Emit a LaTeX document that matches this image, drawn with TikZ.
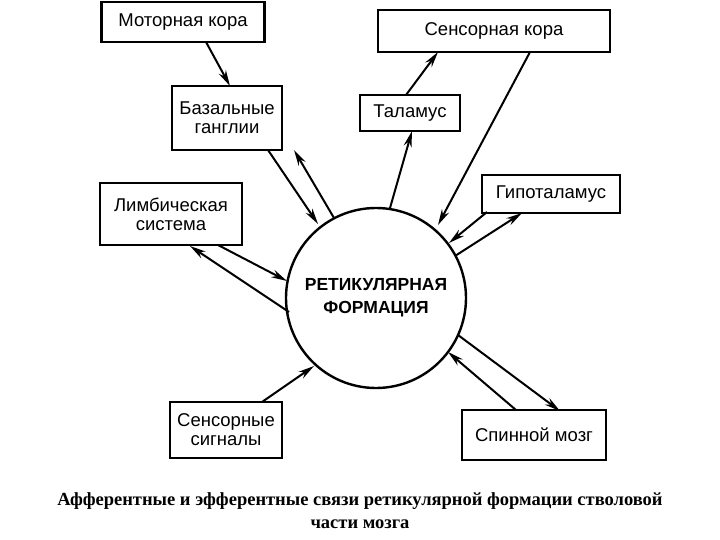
\documentclass[tikz,border=0pt]{standalone}
\usepackage{fontspec}
\setmainfont{Liberation Sans}
\newfontfamily\capfont{Liberation Serif}
\usetikzlibrary{arrows.meta}
\begin{document}
\begin{tikzpicture}[x=1pt,y=-1pt,
 box/.style={draw,line width=2.4pt,align=center,font=\fontsize{18.5}{19}\selectfont,inner sep=0pt},
 arr/.style={line width=2pt,-{Stealth[length=16pt,width=8pt]}}]
\useasboundingbox (0,0) rectangle (720,540);
\node[circle,draw,line width=2.4pt,minimum size=180pt,align=center,font=\bfseries\fontsize{17.5}{23}\selectfont] (rf) at (376,298) {РЕТИКУЛЯРНАЯ\\ФОРМАЦИЯ};
\node[box,minimum width=163pt,minimum height=40pt] (mk) at (183,22) {Моторная кора};
\node[box,minimum width=232pt,minimum height=42pt] (sk) at (494,31) {Сенсорная кора};
\node[box,minimum width=110pt,minimum height=64pt] (bg) at (227,118) {Базальные\\ганглии};
\node[box,minimum width=100pt,minimum height=36pt] (th) at (410,113) {Таламус};
\node[box,minimum width=142pt,minimum height=62pt] (ls) at (171,214) {Лимбическая\\система};
\node[box,minimum width=138pt,minimum height=38pt] (ht) at (551,194) {Гипоталамус};
\node[box,minimum width=112pt,minimum height=56pt] (ss) at (226,430) {Сенсорные\\сигналы};
\node[box,minimum width=144pt,minimum height=50pt] (sm) at (534,435) {Спинной мозг};
\coordinate (a1) at (206,42); \coordinate (a2) at (230,86);
\draw[arr] (a1) -- (a2);
\coordinate (b1) at (530,52); \coordinate (b2) at (438,225);
\draw[arr] (b1) -- (b2);
\coordinate (c1) at (406,95); \coordinate (c2) at (438,52);
\draw[arr] (c1) -- (c2);
\coordinate (d1) at (390,208); \coordinate (d2) at (412,131);
\draw[arr] (d1) -- (d2);
\coordinate (e1) at (268,150); \coordinate (e2) at (318,224);
\draw[arr] (e1) -- (e2);
\coordinate (f1) at (334,218); \coordinate (f2) at (294,150);
\draw[arr] (f1) -- (f2);
\coordinate (g1) at (218,245); \coordinate (g2) at (287,281);
\draw[arr] (g1) -- (g2);
\coordinate (h1) at (289,312); \coordinate (h2) at (190,246);
\draw[arr] (h1) -- (h2);
\coordinate (i1) at (487,212); \coordinate (i2) at (449,243);
\draw[arr] (i1) -- (i2);
\coordinate (j1) at (455,256); \coordinate (j2) at (522,213);
\draw[arr] (j1) -- (j2);
\coordinate (k1) at (262,402); \coordinate (k2) at (314,366);
\draw[arr] (k1) -- (k2);
\coordinate (l1) at (458,335); \coordinate (l2) at (560,411);
\draw[arr] (l1) -- (l2);
\coordinate (m1) at (516,410); \coordinate (m2) at (448,352);
\draw[arr] (m1) -- (m2);
\node[align=center,font=\capfont\bfseries\fontsize{18.5}{23}\selectfont] (cap) at (360,511) {Афферентные и эфферентные связи ретикулярной формации стволовой\\части мозга};
\end{tikzpicture}
\end{document}
